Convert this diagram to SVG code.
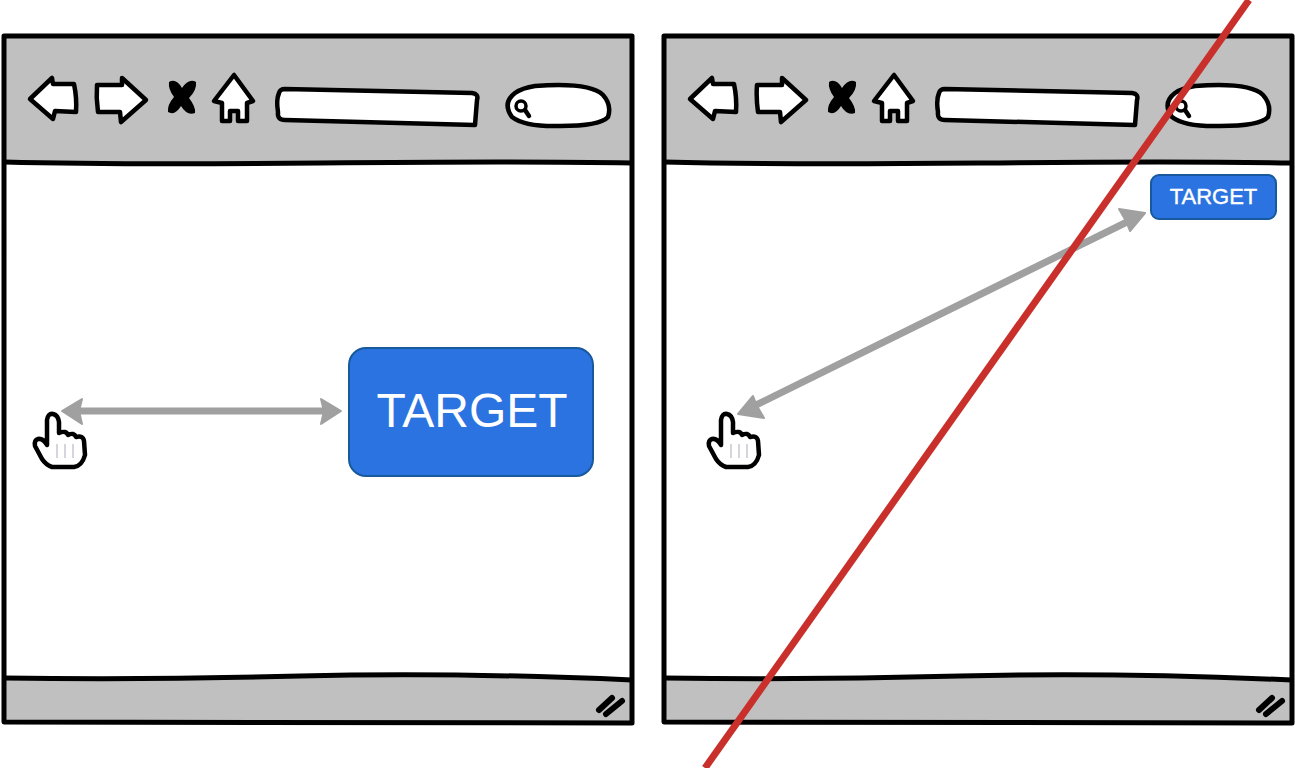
<svg xmlns="http://www.w3.org/2000/svg" width="1295" height="768" viewBox="0 0 1295 768">
<style>
.ink{stroke:#000;stroke-width:4.5;stroke-linejoin:round;stroke-linecap:round}
.w{fill:#fff}
.bar{fill:#c0c0c0}
.fr{fill:none;stroke:#000;stroke-width:5;stroke-linejoin:round}
.gr{fill:none;stroke:#a0a0a0;stroke-width:7}
.hd{fill:#a0a0a0;stroke:#a0a0a0;stroke-width:2;stroke-linejoin:round}
.btn{fill:#2b73e0;stroke:#17599c;stroke-width:2}
.tx{fill:#fff;font-family:"Liberation Sans",Arial,sans-serif;text-anchor:middle}
</style>
<defs>
<g id="browser">
<path class="w" d="M4 36H632V723H4Z"/>
<path class="bar" d="M4 36H632V163Q320 165 4 162Z"/>
<path class="bar" d="M4 678Q300 674 632 680V723H4Z"/>
<path class="fr" d="M4 36H632L632 723L4 722Z"/>
<path class="fr" d="M4 162Q120 165 320 163T632 163"/>
<path class="fr" d="M4 678Q150 680 300 676T632 680"/>
<path class="ink w" d="M30 99L52 78L53 84L74 84Q77 98 76 112L55 111L53 119Z"/>
<path class="ink w" d="M97 85L122 85L122 78L146 100L121 122L120 112L98 112Q96 98 97 85Z"/>
<path d="M169 82Q176 78 182 88Q189 78 196 82Q197 90 189 98Q196 107 195 113Q187 116 181 106Q175 116 168 112Q167 105 174 97Q168 89 169 82Z" fill="#000"/>
<path class="ink w" d="M234 75L214 101L222 103L222 121L230 121L230 111L238 111L238 121L247 121L247 103L253 101Z"/>
<path class="ink w" d="M285 89L472 93Q479 94 477 100L475 125L285 120Q277 120 278 112Q276 100 279 93Q280 89 285 89Z"/>
<path class="ink w" d="M535 86Q590 82 603 95Q612 105 608 117Q600 126 560 126Q525 127 512 117Q502 103 515 93Q522 88 535 86Z"/>
<circle cx="521" cy="106" r="5" fill="none" stroke="#000" stroke-width="3.5"/>
<path class="ink" d="M525 110L529 116" fill="none"/>
<path class="ink" style="stroke-width:6" d="M599 710L612 698M606 714L622 701" fill="none"/>
</g>
<g id="hand">
<path class="ink w" d="M47 440L47 420Q48 413 53 414Q58 415 59 422L59 433Q66 430 68 435Q74 432 76 437Q83 435 84 441L85 455Q82 466 74 467L52 467Q46 465 42 459L35 446Q34 440 38 439Q43 438 47 445Z"/>
<path d="M57 444V458M65 444V458M73 444V458" stroke="#c8c8d4" stroke-width="1.5" fill="none"/>
</g>
</defs>
<rect width="1295" height="768" fill="#fff"/>
<g id="browser-left"><use href="#browser"/></g>
<g id="browser-right"><use href="#browser" x="660"/></g>
<g id="target-large">
<rect class="btn" x="349" y="348" width="244" height="128" rx="17"/>
<text class="tx" x="472" y="427" font-size="48">TARGET</text>
</g>
<g id="target-small">
<rect class="btn" x="1151" y="175" width="125" height="44" rx="8"/>
<text class="tx" x="1213.500" y="204" font-size="22" stroke="#fff" stroke-width="0.4">TARGET</text>
</g>
<g id="cursor-left"><use href="#hand"/></g>
<g id="cursor-right"><use href="#hand" x="674"/></g>
<g id="connectors">
<path class="gr" d="M76 411H326"/>
<path class="hd" d="M62 411L82 399L79 411L82 424Z"/>
<path class="hd" d="M341 411L321 399L324 411L321 424Z"/>
<path class="gr" d="M752 407L1131 220"/>
<path class="hd" d="M738 414L753 396L757 406L764 418Z"/>
<path class="hd" d="M1145 213L1130 231L1126 221L1119 209Z"/>
<path d="M1249 0L705 768" fill="none" stroke="#c9302c" stroke-width="7"/>
</g>
</svg>
